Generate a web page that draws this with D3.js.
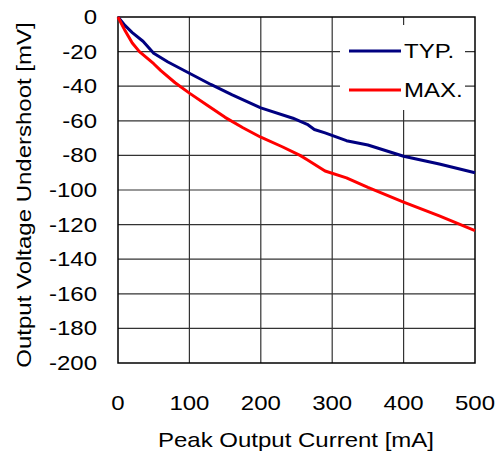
<!DOCTYPE html>
<html><head><meta charset="utf-8">
<script src="https://cdn.jsdelivr.net/npm/d3@7"></script>
<style>body{margin:0;background:#fff;}svg{display:block;}</style>
</head><body>
<svg id="c" width="496" height="461"></svg>
<script>
const xTicks = [0,100,200,300,400,500];
const yTicks = [0,-20,-40,-60,-80,-100,-120,-140,-160,-180,-200];
const typX = [0,10,20,35,50,70,100,130,160,200,245,265,275,290,320,350,400,450,500];
const typY = [0,-5,-9,-14,-21,-26,-32.5,-39,-45,-52.5,-58.5,-62,-65,-67,-71.5,-74,-80.5,-85,-90];
const maxX = [0,10,20,30,50,60,80,100,125,150,175,200,230,255,265,290,320,350,400,450,500];
const maxY = [0,-8,-15,-20,-27,-31,-38,-44,-51,-58,-64,-69.5,-75,-80,-82.5,-89,-93,-98.5,-107,-115,-123.5];
const seriesNames = ["TYP.","MAX."];
const colors = ["#000080","#ff0000"];

const svg = d3.select("#c");
const L=118,R=475,T=17,B=363;
const x = d3.scaleLinear().domain([0,500]).range([L,R]);
const y = d3.scaleLinear().domain([-200,0]).range([B,T]);
const font = "Liberation Sans, Arial, sans-serif";
const FS = 20, SX = 1.2;

function label(px, py, txt, anchor, sx, rot){
  const gg = svg.append("g").attr("transform",`translate(${px},${py})${rot?` rotate(${rot})`:""} scale(${sx},1)`);
  gg.append("text").attr("dy","0.35em").attr("text-anchor",anchor)
    .attr("font-family",font).attr("font-size",FS).attr("fill","#000").text(txt);
}

// grid
const g = svg.append("g");
g.selectAll("line.v").data(xTicks.slice(1,-1)).join("line")
 .attr("x1",d=>x(d)).attr("x2",d=>x(d)).attr("y1",T).attr("y2",B)
 .attr("stroke","#333").attr("stroke-width",1.2);
g.selectAll("line.h").data(yTicks.slice(1,-1)).join("line")
 .attr("x1",L).attr("x2",R).attr("y1",d=>y(d)).attr("y2",d=>y(d))
 .attr("stroke","#333").attr("stroke-width",1.2);

// legend background
svg.append("rect").attr("x",340).attr("y",25).attr("width",125).attr("height",85).attr("fill","#fff");

// frame
svg.append("rect").attr("x",L).attr("y",T).attr("width",R-L).attr("height",B-T)
 .attr("fill","none").attr("stroke","#000").attr("stroke-width",1.5);

// lines
const line = d3.line().x(d=>x(d[0])).y(d=>y(d[1]));
const data = [d3.zip(typX,typY), d3.zip(maxX,maxY)];
svg.selectAll("path.s").data(data).join("path")
 .attr("d",line).attr("fill","none").attr("stroke",(d,i)=>colors[i]).attr("stroke-width",3)
 .attr("stroke-linejoin","round");

// legend
seriesNames.forEach((n,i)=>{
  const yy = 51 + i*39;
  svg.append("line").attr("x1",349).attr("x2",401).attr("y1",yy).attr("y2",yy)
   .attr("stroke",colors[i]).attr("stroke-width",3);
  label(404, yy, n, "start", SX);
});

// ticks
yTicks.forEach(d=>label(97, y(d), d, "end", SX));
xTicks.forEach(d=>label(x(d), 403, d, "middle", SX));

label(296, 440, "Peak Output Current [mA]", "middle", SX);
label(24, 195, "Output Voltage Undershoot [mV]", "middle", 1.2, -90);
</script>
</body></html>
